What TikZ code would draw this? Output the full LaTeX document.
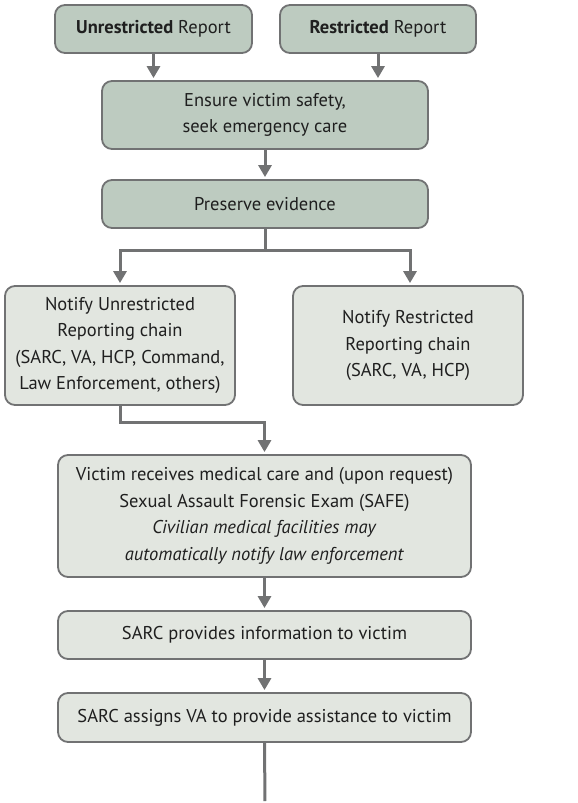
\documentclass[tikz,border=0pt]{standalone}
\usepackage{fontspec}
\setmainfont{PT Sans}
\usepackage{xcolor}
\usetikzlibrary{arrows.meta, positioning, calc}

\definecolor{darkbox}{HTML}{BDCBC0}
\definecolor{lightbox}{HTML}{E2E6E0}
\definecolor{edgegray}{HTML}{717273}

\begin{document}
\begin{tikzpicture}[x=1pt, y=1pt,
    box/.style={draw=edgegray, line width=1.8pt, rounded corners=10pt, align=center,
        font=\fontsize{18.5}{26.5}\selectfont, text=black!88, inner sep=2pt},
    topbox/.style={box, fill=darkbox},
    lowbox/.style={box, fill=lightbox},
    flow/.style={draw=edgegray, line width=3pt, -{Triangle[width=13pt,length=12pt]}, shorten >=2pt}
]
    \useasboundingbox (0, 0) rectangle (578, -803);
    % report types
    \node[topbox, minimum width=197, minimum height=48] (unres) at (153.5, -29) {\textbf{Unrestricted} Report};
    \node[topbox, minimum width=196, minimum height=48] (res) at (378, -29) {\textbf{Restricted} Report};
    % first steps
    \node[topbox, minimum width=326, minimum height=68] (safety) at (265, -115) {Ensure victim safety,\\seek emergency care};
    \node[topbox, minimum width=326, minimum height=48] (evidence) at (265, -204) {Preserve evidence};
    % notification chains
    \node[lowbox, minimum width=230, minimum height=119] (chainU) at (120, -345.5)
        {Notify Unrestricted\\Reporting chain\\(SARC, VA, HCP, Command,\\Law Enforcement, others)};
    \node[lowbox, minimum width=230, minimum height=119] (chainR) at (408, -345.5)
        {Notify Restricted\\Reporting chain\\ (SARC, VA, HCP)};
    % care and support
    \node[lowbox, minimum width=413, minimum height=122] (care) at (264.5, -516)
        {Victim receives medical care and (upon request)\\Sexual Assault Forensic Exam (SAFE)\\
        \textit{Civilian medical facilities may}\\\textit{automatically notify law enforcement}};
    \node[lowbox, minimum width=413, minimum height=48] (info) at (264.5, -635) {SARC provides information to victim};
    \node[lowbox, minimum width=413, minimum height=49] (assign) at (264.5, -717.5) {SARC assigns VA to provide assistance to victim};
    \coordinate (next) at (265, -803);

    \draw[flow] (unres.south) -- (unres.south |- safety.north);
    \draw[flow] (res.south) -- (res.south |- safety.north);
    \draw[flow] (safety.south) -- (evidence.north);
    \draw[flow] (evidence.south) -- ++(0, -22) -| (chainU.north);
    \draw[flow] (evidence.south) -- ++(0, -22) -| ($(chainR.north) + (2, 0)$);
    \draw[flow] (chainU.south) -- ++(0, -17) -| (care.north);
    \draw[flow] (care.south) -- (info.north);
    \draw[flow] (info.south) -- (assign.north);
    \draw[flow, -] (assign.south) -- (next);
\end{tikzpicture}
\end{document}
